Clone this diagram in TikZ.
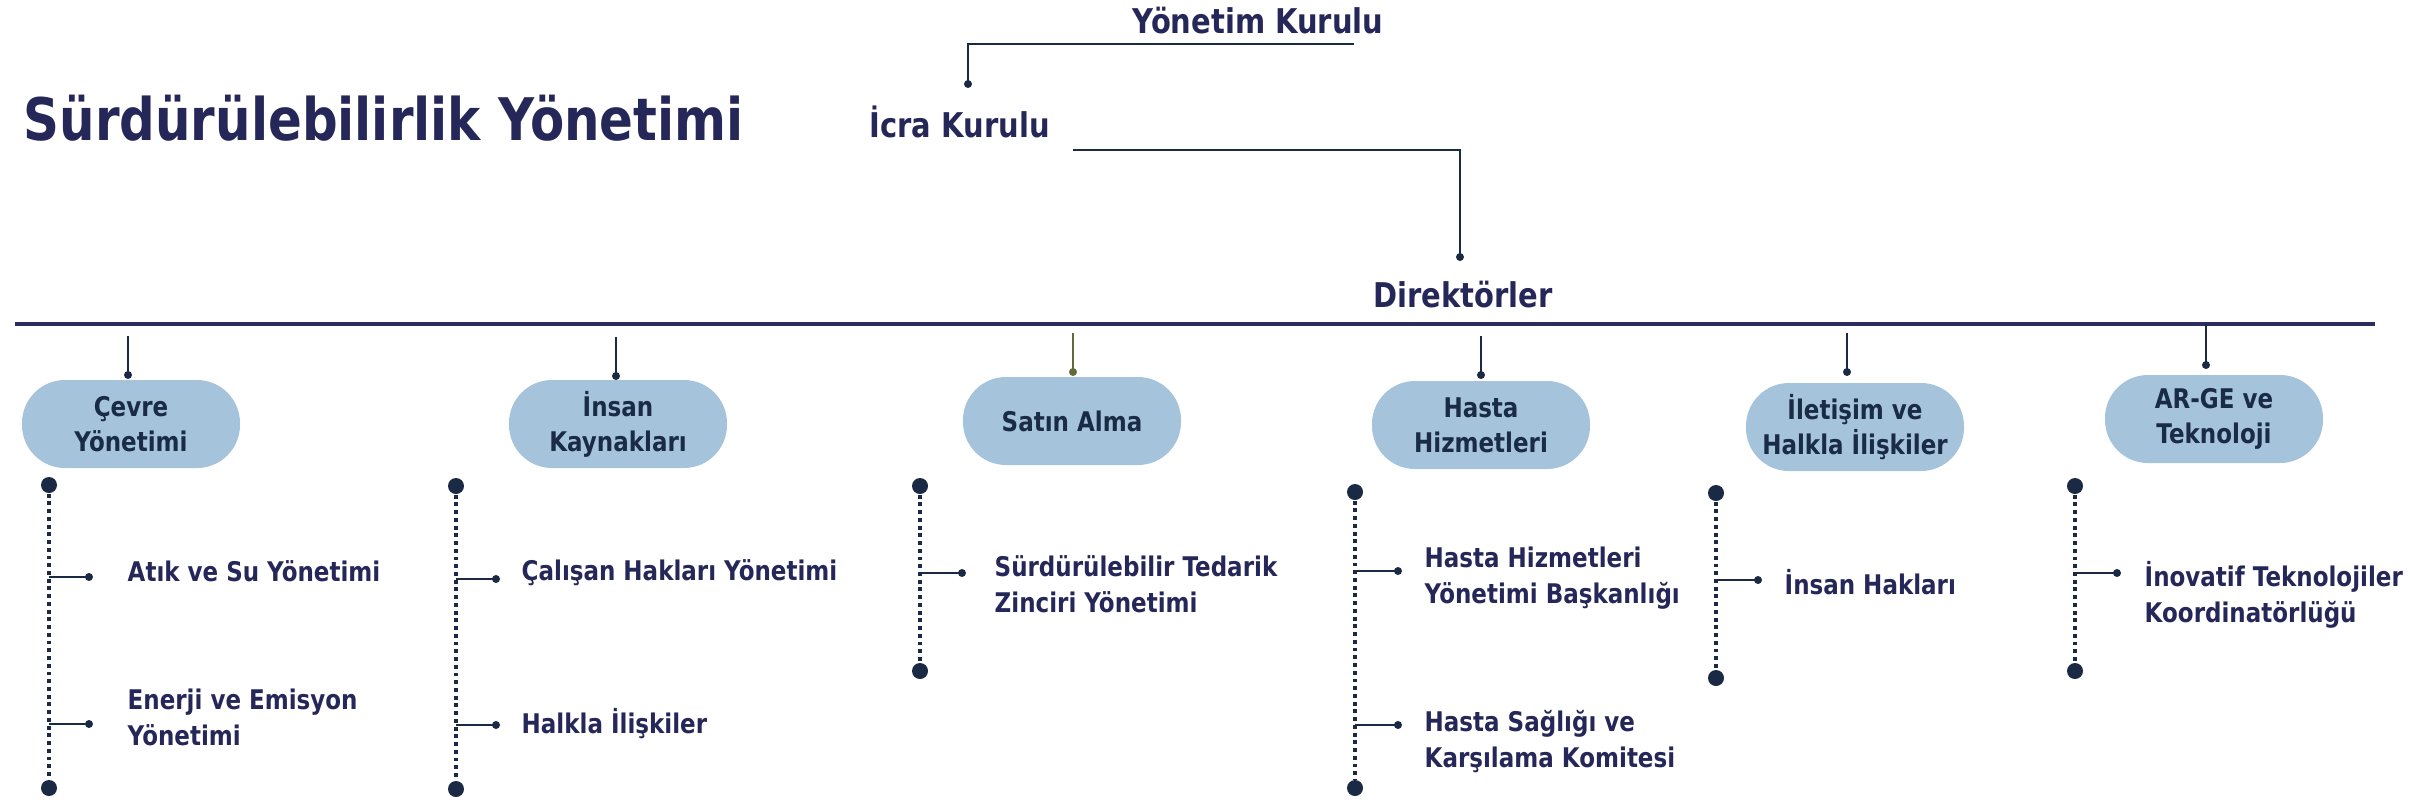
\documentclass[tikz,border=0pt]{standalone}
\usepackage{fontspec}
\setmainfont{DejaVu Sans}[FakeStretch=0.85]
\usetikzlibrary{positioning,calc}
\definecolor{navy}{HTML}{1B2A44}
\definecolor{ink}{HTML}{262759}
\definecolor{boxink}{HTML}{1A2B46}
\definecolor{boxfill}{HTML}{A6C3DC}
\definecolor{olive}{HTML}{5F6B3A}
\definecolor{rule}{HTML}{2B2D5E}
\tikzset{
  unit/.style={fill=boxfill, rounded corners=4.3mm, minimum width=21.8mm, minimum height=8.8mm,
    inner sep=0pt, align=center, text=boxink, font=\bfseries\fontsize{7.7}{10}\selectfont},
  item/.style={anchor=base west, inner sep=0pt, align=left, text=ink,
    font=\bfseries\fontsize{7.7}{10}\selectfont},
  head/.style={anchor=base west, inner sep=0pt, text=ink, font=\bfseries\fontsize{9.7}{12}\selectfont},
  link/.style={draw=navy, line width=0.75pt},
  rail/.style={draw=navy, line width=1.15pt, dash pattern=on 1.1pt off 1.1pt},
  stub/.style={draw=navy, line width=0.6pt},
  bigdot/.style={circle, fill=navy, inner sep=0pt, minimum size=1.6mm},
  smalldot/.style={circle, fill=navy, inner sep=0pt, minimum size=0.8mm},
}
\begin{document}
\begin{tikzpicture}[x=0.1mm, y=-0.1mm]
  \useasboundingbox (0,0) rectangle (2410,804);

  \node[head, font=\bfseries\fontsize{16.7}{20}\selectfont] (title) at (23,140) {Sürdürülebilirlik Yönetimi};
  \node[head] (board) at (1132,33) {Yönetim Kurulu};
  \node[head] (exec) at (869,137) {İcra Kurulu};
  \node[head] (dirs) at (1373,307) {Direktörler};

  \coordinate (board-end) at (1354,44);
  \node[smalldot] (exec-dot) at (968,84) {};
  \draw[link] (board-end) -- (exec-dot |- board-end) -- (exec-dot.center);
  \coordinate (exec-end) at (1073,150);
  \node[smalldot] (dirs-dot) at (1460,257) {};
  \draw[link] (exec-end) -- (dirs-dot |- exec-end) -- (dirs-dot.center);

  \coordinate (bar-l) at (15,324);
  \coordinate (bar-r) at (2375,324);
  \draw[draw=rule, line width=1.1pt] (bar-l) -- (bar-r);

  \node[unit] (cevre) at (131,424) {Çevre\\Yönetimi};
  \node[unit] (insan) at (618,424) {İnsan\\Kaynakları};
  \node[unit] (satin) at (1072,421) {Satın Alma};
  \node[unit] (hasta) at (1481,425) {Hasta\\Hizmetleri};
  \node[unit] (iletisim) at (1855,427) {İletişim ve\\Halkla İlişkiler};
  \node[unit] (arge) at (2214,419) {AR-GE ve\\Teknoloji};

  \foreach \u/\x/\y/\t in {cevre/128/375/336, insan/616/376/337, hasta/1481/375/336,
                           iletisim/1847/372/333, arge/2206/365/324} {
    \node[smalldot] (\u-dot) at (\x,\y) {};
    \draw[link] (\u-dot.center) -- (\x,\t);
  }
  \node[smalldot, fill=olive] (satin-dot) at (1073,372) {};
  \draw[draw=olive, line width=0.75pt] (satin-dot.center) -- (1073,333);

  \foreach \u/\x/\a/\b in {cevre/49/485/788, insan/456/486/789, satin/920/486/671,
                           hasta/1355/492/788, iletisim/1716/493/678, arge/2075/486/671} {
    \node[bigdot] (\u-top) at (\x,\a) {};
    \node[bigdot] (\u-bot) at (\x,\b) {};
    \draw[rail] (\u-top) -- (\u-bot);
  }

  \node[item] (atik) at (127,581) {Atık ve Su Yönetimi};
  \node[item] (enerji) at (127,745) {Enerji ve Emisyon\\Yönetimi};
  \node[item] (calisan) at (521,580) {Çalışan Hakları Yönetimi};
  \node[item] (halkla) at (521,733) {Halkla İlişkiler};
  \node[item] (tedarik) at (994,612) {Sürdürülebilir Tedarik\\Zinciri Yönetimi};
  \node[item] (baskan) at (1424,603) {Hasta Hizmetleri\\Yönetimi Başkanlığı};
  \node[item] (komite) at (1424,767) {Hasta Sağlığı ve\\Karşılama Komitesi};
  \node[item] (haklar) at (1784,594) {İnsan Hakları};
  \node[item] (inovatif) at (2144,622) {İnovatif Teknolojiler\\Koordinatörlüğü};

  \foreach \i/\x/\y/\l in {atik/49/577/40, enerji/49/724/40, calisan/456/579/40, halkla/456/725/40,
                           tedarik/920/573/42, baskan/1355/571/43, komite/1355/725/43,
                           haklar/1716/580/42, inovatif/2075/573/42} {
    \coordinate (\i-j) at (\x,\y);
    \node[smalldot] (\i-dot) at (\x+\l,\y) {};
    \draw[stub] (\i-j) -- (\i-dot.center);
  }
\end{tikzpicture}
\end{document}
